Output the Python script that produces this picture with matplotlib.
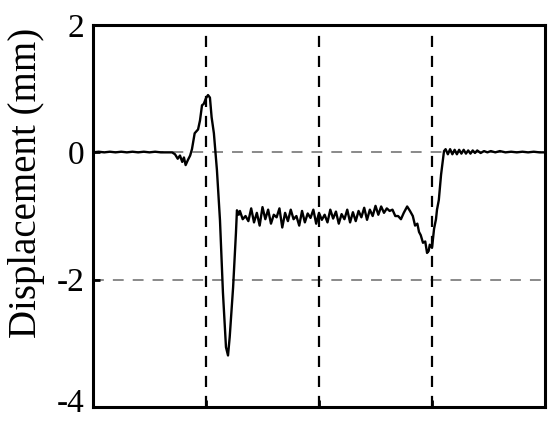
import matplotlib
matplotlib.use('Agg')
import matplotlib.pyplot as plt
import matplotlib.transforms as mtransforms

# Time (arbitrary units, 0-400) and displacement (mm)
time = [0, 5, 10, 15, 20, 25, 30, 35, 40, 45, 50, 55, 60, 65, 70,
        72.6, 75, 77, 79, 80.5, 82, 84, 86, 87.6, 90, 93, 94.7, 96.5, 98,
        100, 101.8, 103.5, 105, 107, 109.7, 112.4, 115, 117.7, 119.5, 121,
        124, 126.5, 127.4, 129,
        130, 132.5, 135, 137.5, 140, 142.5, 145, 147.5, 150, 152.5,
        155, 157.5, 160, 162.5, 165, 167.5, 170, 172.5, 175, 177.5,
        180, 182.5, 185, 187.5, 190, 192.5, 195, 197.5, 200, 202.5,
        205, 207.5, 210, 212.5, 215, 217.5, 220, 222.5, 225, 227.5,
        230, 232.5, 235, 237.5, 240, 242.5, 245, 247.5, 250, 252.5,
        255, 257.5, 260, 262.5, 265, 267.5, 270, 272.5,
        275, 278, 280.5, 283, 285, 287, 288.5, 290, 292, 294, 295.6, 297,
        298, 300, 301.8, 303.5, 304.4, 306, 308, 309.7, 310.6,
        312, 314, 316, 318, 320, 322, 324, 326, 328, 330, 332, 334, 336,
        338, 340, 343, 346, 349, 352, 356, 360, 365, 370, 375, 380, 385,
        390, 395, 400]
disp = [0.0, 0.01, 0.0, 0.01, 0.0, 0.01, 0.0, 0.01, 0.0, 0.01, 0.0, 0.01, 0.0, 0.0, 0.0,
        -0.03, -0.1, -0.05, -0.15, -0.08, -0.2, -0.12, -0.05, 0.05, 0.3, 0.36, 0.5, 0.74, 0.76,
        0.85, 0.9, 0.86, 0.55, 0.3, -0.28, -1.07, -2.2, -3.06, -3.19, -2.9,
        -2.12, -1.27, -0.91, -0.98,
        -0.92, -1.05, -1.0, -1.08, -0.88, -1.1, -0.95, -1.15, -0.86, -1.05,
        -0.9, -1.12, -0.98, -1.02, -0.88, -1.18, -0.95, -1.08, -0.9, -1.05,
        -1.0, -1.15, -0.92, -1.1, -0.96, -1.03, -0.9, -1.12, -0.95, -1.06,
        -0.98, -1.1, -0.9, -1.04, -0.93, -1.12, -0.97, -1.05, -0.9, -1.1,
        -0.94, -1.08, -0.92, -1.02, -0.87, -1.06, -0.9, -1.0, -0.84, -0.98,
        -0.85, -0.95, -0.88, -0.92, -0.9, -1.0, -1.0, -1.05,
        -0.95, -0.85, -0.92, -1.0, -1.15, -1.12, -1.25, -1.3, -1.42, -1.4, -1.58, -1.55,
        -1.45, -1.5, -1.2, -1.05, -0.9, -0.75, -0.35, -0.1, 0.02,
        0.05, -0.03, 0.05, -0.03, 0.04, -0.03, 0.04, -0.02, 0.04, -0.02, 0.03, -0.02, 0.03,
        -0.01, 0.03, -0.01, 0.02, 0.0, 0.02, 0.0, 0.02, 0.0, 0.01, 0.0, 0.01, 0.0,
        0.01, 0.0, 0.0]

vlines = [100, 200, 300]
hlines = [0, -2]
yticks = [-4, -2, 0, 2]

plt.rcParams['font.family'] = 'Liberation Serif'

fig = plt.figure(figsize=(5.5, 4.24), dpi=100)
ax = fig.add_axes([0.169, 0.04, 0.822, 0.901])

for y in hlines:
    ax.axhline(y, color='#808080', lw=1.3, ls=(0, (6, 5)), zorder=1)
for x in vlines:
    ax.axvline(x, color='black', lw=1.6, ls=(0, (5, 4)), zorder=1)

ax.plot(time, disp, color='black', lw=1.7, zorder=3)

ax.set_xlim(0, 400)
ax.set_ylim(-4, 2)
ax.set_yticks(yticks)
ax.set_yticklabels([str(t) for t in yticks])
ax.set_xticks(vlines)
ax.set_xticklabels([])
ax.tick_params(direction='in', width=2, length=5, labelsize=24)
ax.tick_params(axis='y', pad=6)
for s in ax.spines.values():
    s.set_linewidth(2.2)

# lift the bottom label a little so it stays inside the figure
lab = ax.get_yticklabels()[0]
lab.set_transform(lab.get_transform() +
                  mtransforms.ScaledTranslation(0, 5 / 72, fig.dpi_scale_trans))

ax.set_ylabel('Displacement (mm)', fontsize=28)
ax.yaxis.set_label_coords(-0.107, 0.586)

fig.savefig('out.png', dpi=100)
